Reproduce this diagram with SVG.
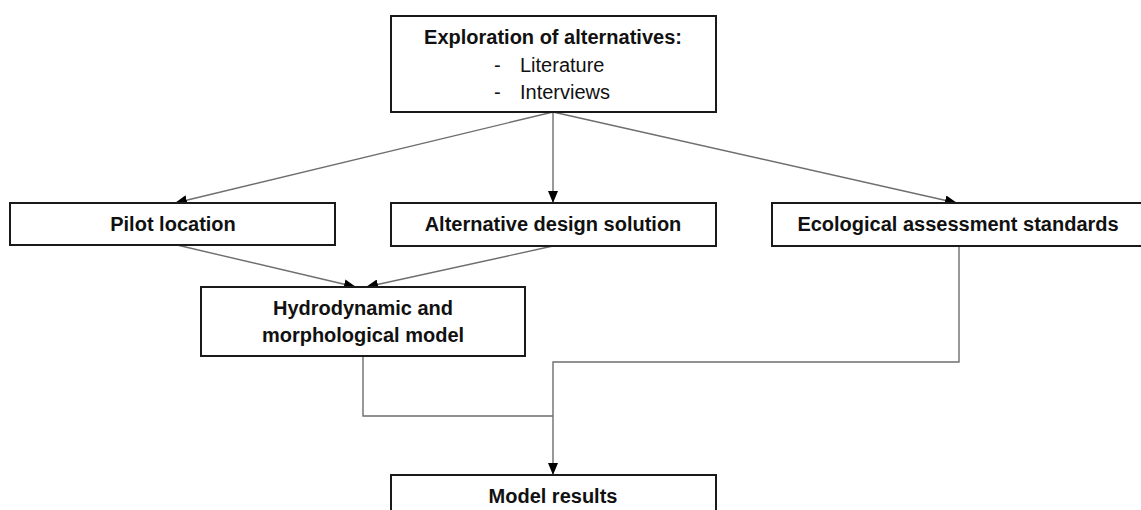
<svg xmlns="http://www.w3.org/2000/svg" width="1141" height="510" viewBox="0 0 1141 510">
<style>
.box{fill:#fff;stroke:#1a1a1a;stroke-width:2}
.t{font-family:"Liberation Sans",Arial,sans-serif;font-size:20px;font-weight:bold;fill:#111;text-anchor:middle}
.n{font-family:"Liberation Sans",Arial,sans-serif;font-size:20px;fill:#111}
.c{fill:none;stroke:#6e6e6e;stroke-width:1.4}
</style>
<defs>
<marker id="ah" markerUnits="userSpaceOnUse" markerWidth="12" markerHeight="10" refX="12" refY="5" orient="auto">
<path d="M0,0 L12,5 L0,10 z" fill="#000"/>
</marker>
</defs>
<rect width="1141" height="510" fill="#fff"/>
<g id="connectors">
<line class="c" x1="553" y1="112" x2="175" y2="203" marker-end="url(#ah)"/>
<line class="c" x1="553" y1="112" x2="553" y2="203" marker-end="url(#ah)"/>
<line class="c" x1="553" y1="112" x2="957" y2="203" marker-end="url(#ah)"/>
<line class="c" x1="177" y1="245" x2="356" y2="287" marker-end="url(#ah)"/>
<line class="c" x1="553" y1="246" x2="366" y2="287" marker-end="url(#ah)"/>
<polyline class="c" points="363,356 363,416 553,416"/>
<polyline class="c" points="959,246 959,362 553,362 553,475" marker-end="url(#ah)"/>
</g>
<g id="exploration">
<rect class="box" x="391" y="16" width="325" height="96"/>
<text class="t" x="553" y="44">Exploration of alternatives:</text>
<text class="n" x="494" y="72">-</text>
<text class="n" x="520" y="72">Literature</text>
<text class="n" x="494" y="99">-</text>
<text class="n" x="520" y="99">Interviews</text>
</g>
<g id="pilot">
<rect class="box" x="10" y="203" width="325" height="42"/>
<text class="t" x="173" y="231">Pilot location</text>
</g>
<g id="alternative">
<rect class="box" x="391" y="203" width="325" height="43"/>
<text class="t" x="553" y="231">Alternative design solution</text>
</g>
<g id="ecological">
<rect class="box" x="772" y="203" width="380" height="43"/>
<text class="t" x="958" y="231">Ecological assessment standards</text>
</g>
<g id="hydro">
<rect class="box" x="201" y="287" width="324" height="69"/>
<text class="t" x="363" y="315">Hydrodynamic and</text>
<text class="t" x="363" y="342">morphological model</text>
</g>
<g id="results">
<rect class="box" x="391" y="475" width="325" height="50"/>
<text class="t" x="553" y="503">Model results</text>
</g>
</svg>
